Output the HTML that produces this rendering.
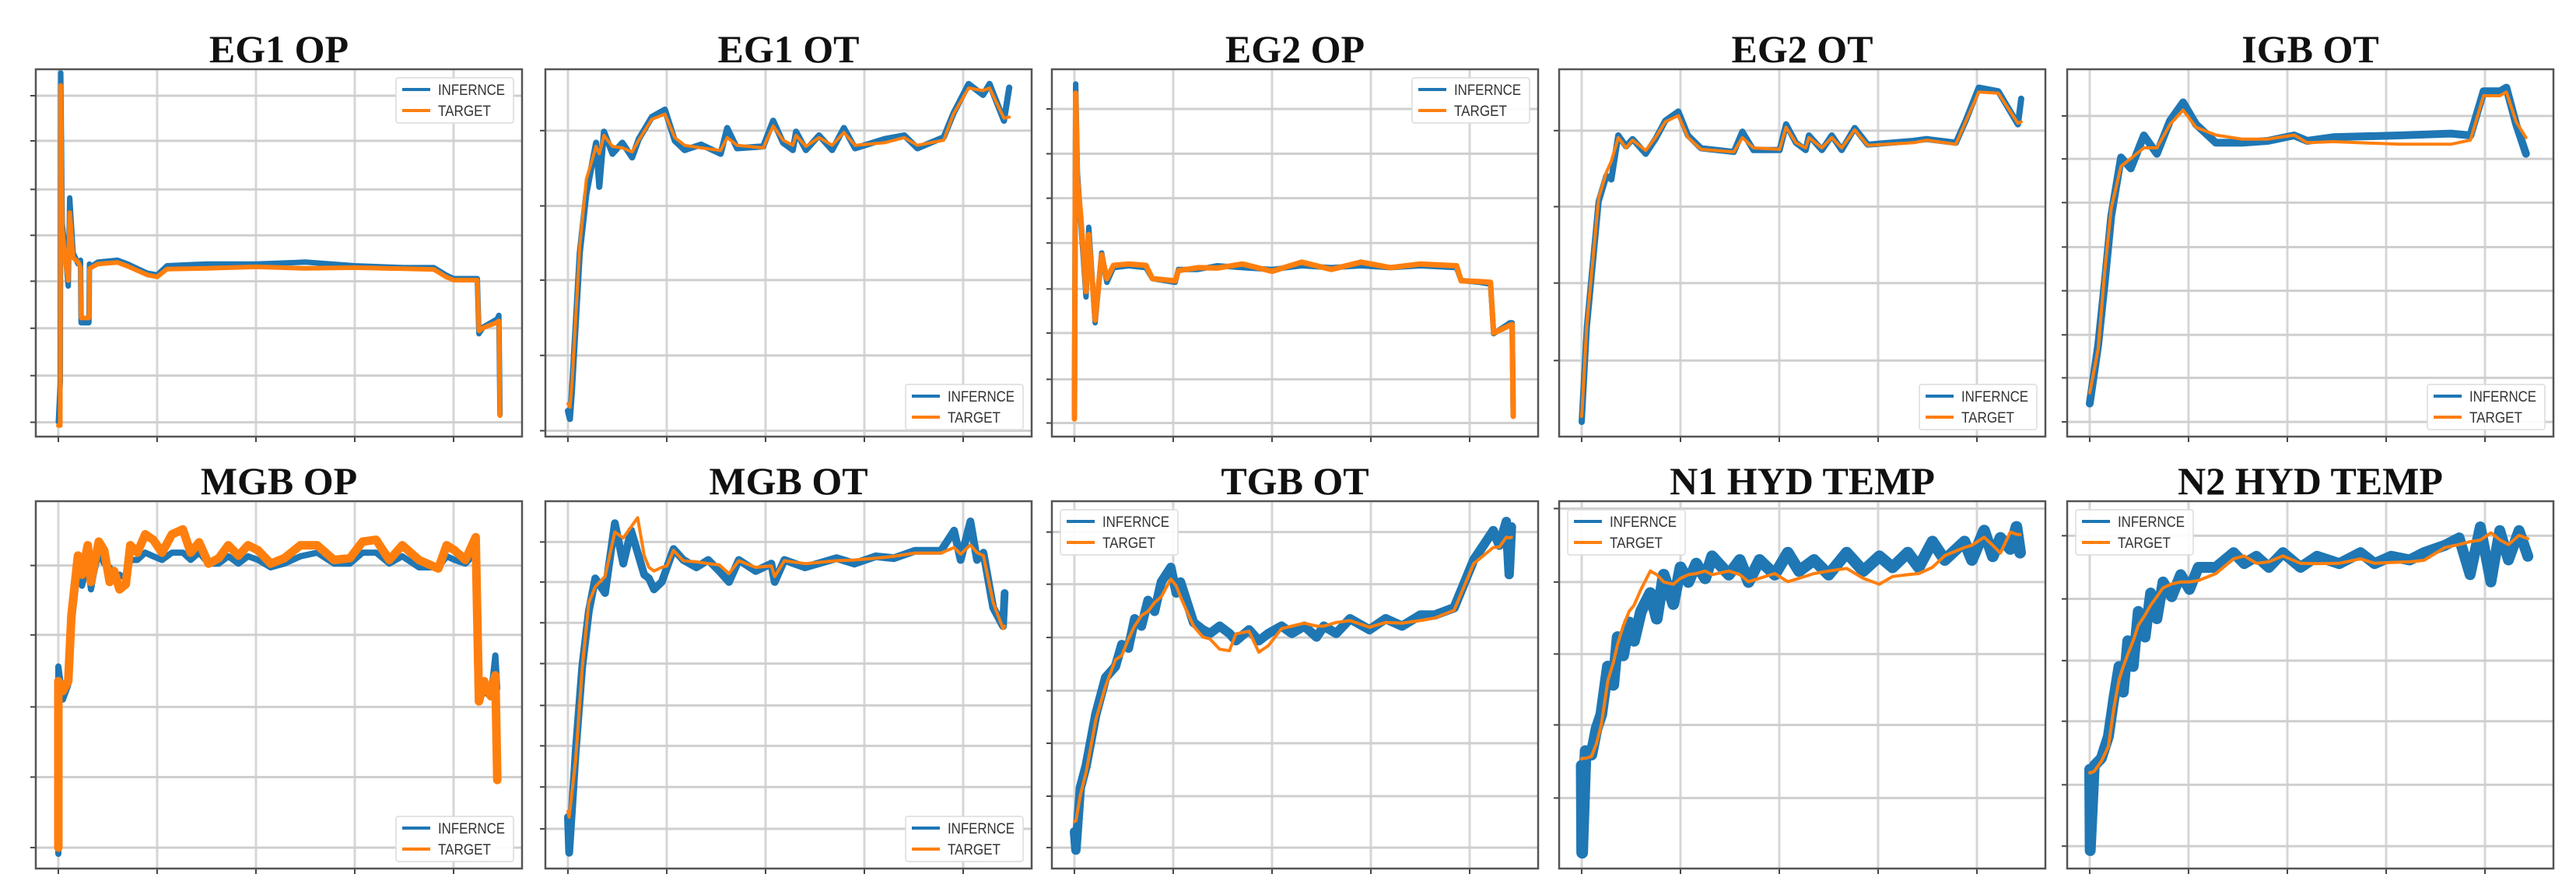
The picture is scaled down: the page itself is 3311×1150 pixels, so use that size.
<!DOCTYPE html>
<html><head><meta charset="utf-8"><title>Inference vs Target</title>
<style>
html,body{margin:0;padding:0;background:#fff;}
svg{display:block;}
</style></head>
<body>
<svg id="chart" width="3311" height="1150" viewBox="0 0 3311 1150" xmlns="http://www.w3.org/2000/svg"></svg>
<script>
// ---- shared axis data ----
const xTicks = [0, 1000, 2000, 3000, 4000];
const xDomain = [-228, 4693];
const yDomain = [0, 100];

// ---- EG1 OP ----
const eg1opX = [0,20,25,40,70,100,115,150,200,225,230,310,315,320,400,600,700,900,1000,1100,1500,2000,2500,3000,3500,3800,3922,4000,4240,4257,4300,4440,4458,4470];
const eg1opTarget = [3,3,95.6,56.5,48,42.5,61,48.7,47.5,46,32.3,32.3,45.6,45.8,47,47.4,46.4,44,43.5,45.6,45.8,46.2,45.8,46,45.7,45.5,43.5,42.6,42.6,28.8,29.6,31.1,31.5,5.7];
const eg1opInfer = [4,15,99,58,50,41,65,50,47,48,31,31,47,46,47.5,48,47,44.5,44,46.5,47,47,47.5,46.5,46,46,44,43,43,28,29.8,32,33,6];
const eg1opYTicks = [92.8,80.5,67.3,54.8,42.3,29.5,16.6,3.9];

// ---- EG1 OT ----
const eg1otX = [0,20,40,120,186,285,318,365,451,551,650,717,849,982,1082,1181,1347,1546,1612,1712,1977,2077,2177,2276,2309,2409,2541,2674,2793,2906,3205,3404,3537,3803,3902,4055,4201,4267,4413,4466];
const eg1otTarget = [9,8,14,52,70,79,77,82,79,78.6,77.5,80.7,86.4,87.8,81.4,79.3,78.6,77.9,81.4,79.3,78.6,84.6,80.7,79.3,82,79,81.4,79.3,82.8,79.3,80,81.4,79.3,80.7,87.8,94.9,94.2,94.9,86.7,87];
const eg1otInfer = [7,4.8,12,50,66,80,68,83,77,80,76,81,87,89,80.5,78,79.5,77,84,78.5,79,86,80,78,83,78,82,78,84,78.5,81,82,78.5,81.5,88,96,93,96,86,95];
const eg1otYTicks = [83.3,62.8,42.6,22.1,1.6];

// ---- EG2 OP ----
const eg2opX = [0,13,30,66,118,145,210,276,329,395,550,724,789,1020,1053,1250,1447,1700,2000,2300,2600,2900,3200,3500,3868,3914,4100,4211,4243,4408,4430,4441];
const eg2opTarget = [4.8,93.5,70,59.4,39.5,55,31.7,49.5,43,46.6,47,46.6,43,42.4,45.2,46,45.9,47,45,47.5,45.5,47.5,46,47,46.5,42.4,42.2,42,28.2,30.3,30.5,5.5];
const eg2opInfer = [6,96,72,58,38,57,31,50,42,46,46.5,46,43,42,45.5,45.5,46.5,46,45.5,46.5,46,46.5,46,46.5,46,42.5,42,41.5,28,31,31,6];
const eg2opYTicks = [89.2,77,64.9,52.7,40.2,28.2,15.6,3.7];

// ---- EG2 OT ----
const eg2otX = [0,53,172,251,300,370,449,515,648,747,846,978,1077,1209,1540,1626,1738,2003,2069,2168,2267,2300,2432,2531,2631,2763,2895,3358,3490,3787,3886,4018,4217,4415,4448];
const eg2otTarget = [5.5,31,65,72,75,81.4,78.6,80.7,77.9,81.4,85.7,87.4,81.4,78.2,77.5,81.4,78.6,78.2,84.2,80,78.6,81.4,78.6,81.4,78.6,83.5,79.3,80,80.7,79.6,85.7,93.8,93.5,85.3,85.7];
const eg2otInfer = [4,30,64,71,70,82,79,81,77,81,86,88.5,82,78.5,77.5,83,78,78,85,80,78,82,78,82,78,84,79.5,80.5,81,80,86,95,94,85,92];
const eg2otYTicks = [83.3,62.6,41.8,20.7];

// ---- IGB OT ----
const igbotX = [0,86,152,218,317,416,548,680,813,945,1077,1276,1540,1804,2069,2201,2465,3126,3655,3853,3986,4151,4217,4316,4415];
const igbotTarget = [11.9,23.9,45.2,62.2,73.6,75.7,78.6,78.6,85,88.9,84.2,82.1,81,81,82.1,80,80.3,79.6,79.6,80.7,92.8,92.8,93.8,85.7,81.4];
const igbotInfer = [9,25,42,60,76,73,82,77,86,91,85,80,80,80.5,82,80.5,81.5,82,82.5,82,94,94,95,85,77];
const igbotYTicks = [87.3,75.6,63.7,51.6,39.7,27.7,16,4];

// ---- MGB OP ----
const mgbopX = [0,0,46,100,133,199,240,298,330,365,410,464,520,564,620,683,729,800,880,961,1050,1150,1260,1340,1425,1520,1624,1720,1823,1920,2022,2150,2288,2450,2620,2790,2951,3080,3216,3350,3481,3650,3846,3930,4012,4120,4224,4257,4310,4377,4423,4443];
const mgbopTarget = [5.7,51,48.3,51,68.9,85.2,80,88,78,83,89,86.6,78,81,76,77.4,88,86,91,89.5,86,91,92.3,86,88.8,83,84.5,88,85.2,88,86.6,83,84.5,88,88,84,84.5,89,89.5,84,88,84,81.7,88,86.6,84,90.2,45.5,51,46.9,52.6,24.1];
const mgbopInfer = [4,55,46,50,66,82,77,83,76,81,86,83,82,80,80,79,84,84,86,85,84,86,86,84,86,83,83,85,83,85,84,82,83,85,86,83,83,86,86,83,85,82,82,85,84,83,86,48,48,47,58,49];
const mgbopYTicks = [82.5,63.6,44,24.9,5.7];

// ---- MGB OT ----
const mgbotX = [0,13,79,145,211,277,376,475,560,640,706,772,820,871,950,1003,1069,1168,1300,1420,1531,1630,1729,1900,2059,2092,2191,2400,2719,2900,3116,3300,3512,3776,3908,3974,4073,4140,4205,4304,4403,4420];
const mgbotTarget = [15.6,14,29.8,54.7,72.4,76.7,79.5,91.6,90,93,95.5,85.2,82,81,82,82.4,86.6,83.8,83.5,83,82.7,80.3,83.8,82,82.4,79.5,83.8,83,83.8,84,84.5,85,85.9,85.9,87.4,85.6,88.1,86,85.2,72.4,65.3,66];
const mgbotInfer = [14,4.3,32,55,70,79,75,94,83,92,86,80,79,76,78,82,87,84,82,84,81,78,84,81,83,78,84,82,84.5,83,85,84.5,86.5,86.5,92,84,94.5,84,86,71,66,75];
const mgbotYTicks = [88.9,78,66.9,55.8,44.4,33.4,22.2,10.8];

// ---- TGB OT ----
const tgbotX = [0,15,60,119,217,316,415,480,547,610,679,745,811,880,976,1030,1074,1206,1300,1371,1470,1569,1635,1767,1866,1964,2096,2200,2327,2450,2525,2650,2789,2986,3150,3316,3500,3646,3843,4041,4239,4300,4371,4400,4423];
const tgbotTarget = [12.8,13,20,26.3,40.5,49.7,56.8,58,62.5,66,68.9,70,72.4,74,78.8,77,73.9,66,63,62.5,59.7,59.3,63.9,64.6,58.9,60.7,65.3,66,66.8,66,66,67,67.5,65.7,67,66.8,67.5,68.2,70.3,83,87.4,87.5,90.2,90,90.2];
const tgbotInfer = [10,5,22,28,42,52,55,61,60,68,66,73,70,78,82,75,78,67,65,64,66,64,62,65,62,64,66,64,66,63,66,64,68,65,68,66,69,69,71,84,92,88,94.5,80,93];
const tgbotYTicks = [91.6,77.4,62.9,48.4,34.1,19.7,5.7];

// ---- N1 HYD TEMP ----
const n1X = [0,5,40,99,150,199,265,320,364,420,480,530,600,695,760,830,927,1000,1080,1159,1250,1320,1490,1600,1689,1800,1954,2086,2200,2351,2500,2682,2850,3013,3146,3300,3411,3550,3675,3874,3950,4073,4160,4238,4338,4400,4437];
const n1Target = [29.8,30,30,30.5,34,39.1,51.1,56,61.1,66,70,71.7,76,81,80,78,77.4,79,80,80.3,81,80,81,80,78.1,79,80.3,78.1,79,80.3,81,81.7,79,77.4,79.5,80,80.3,82,85.2,87.4,88,90.2,88,85.9,91.6,91,90.9];
const n1Infer = [28,4.3,32,31,38,42,55,50,63,58,67,62,70,75,68,80,72,82,78,83,79,85,80,84,78,84,80,86,81,84,80,86,81,85,82,86,82,89,84,89,84,92,85,90,87,93,86];
const n1YTicks = [98,78,58.4,39.1,19.2];

// ---- N2 HYD TEMP ----
const n2X = [0,5,46,118,189,243,296,340,385,440,492,560,617,680,742,830,921,1010,1099,1277,1456,1563,1688,1813,1955,2133,2300,2526,2740,2883,3050,3239,3382,3596,3739,3850,3953,4060,4150,4238,4345,4434];
const n2Target = [26.1,26,26.5,29.2,33.2,43.4,51.3,55,58.3,62,66.2,69,71.7,74,76.4,77.5,78,78,78.4,80.3,84.3,85.1,83.1,83.5,85.1,83.1,83,83.1,84.3,83.1,83.3,83.5,83.9,87.4,88.2,89,89.4,91.4,89.5,88.2,90.7,89.8];
const n2Infer = [27,4.9,28,30,36,46,55,48,62,55,70,63,75,68,78,74,80,76,82,82,86,83,85,82,86,82,85,83,86,83,85,84,86,88,90,80,93,78,92,84,92,85];
const n2YTicks = [90.6,73.4,56.6,40.1,22.8,6.1];

const panelTitles = ["EG1 OP","EG1 OT","EG2 OP","EG2 OT","IGB OT","MGB OP","MGB OT","TGB OT","N1 HYD TEMP","N2 HYD TEMP"];
const legendCorners = ["tr","br","tr","br","br","br","br","tl","tl","tl"];

const panels = [
  {x:eg1opX, t:eg1opTarget, i:eg1opInfer, yt:eg1opYTicks, bw:7, tw:6},
  {x:eg1otX, t:eg1otTarget, i:eg1otInfer, yt:eg1otYTicks, bw:8, tw:4},
  {x:eg2opX, t:eg2opTarget, i:eg2opInfer, yt:eg2opYTicks, bw:7, tw:7},
  {x:eg2otX, t:eg2otTarget, i:eg2otInfer, yt:eg2otYTicks, bw:8, tw:4},
  {x:igbotX, t:igbotTarget, i:igbotInfer, yt:igbotYTicks, bw:10, tw:4},
  {x:mgbopX, t:mgbopTarget, i:mgbopInfer, yt:mgbopYTicks, bw:8, tw:11},
  {x:mgbotX, t:mgbotTarget, i:mgbotInfer, yt:mgbotYTicks, bw:10, tw:4},
  {x:tgbotX, t:tgbotTarget, i:tgbotInfer, yt:tgbotYTicks, bw:12, tw:4},
  {x:n1X, t:n1Target, i:n1Infer, yt:n1YTicks, bw:15, tw:4},
  {x:n2X, t:n2Target, i:n2Infer, yt:n2YTicks, bw:14, tw:4}
];

const NS = "http://www.w3.org/2000/svg";
const svg = document.getElementById("chart");
const colLefts = [46, 701, 1352, 2004, 2657];
const rowTops = [89, 644];
const W = 625, H = 472;

function mk(tag, attrs, parent) {
  const e = document.createElementNS(NS, tag);
  for (const k in attrs) e.setAttribute(k, attrs[k]);
  parent.appendChild(e);
  return e;
}

panels.forEach((p, idx) => {
  const left = colLefts[idx % 5], top = rowTops[Math.floor(idx / 5)];
  const sx = v => left + (v - xDomain[0]) / (xDomain[1] - xDomain[0]) * W;
  const sy = v => top + H - (v - yDomain[0]) / (yDomain[1] - yDomain[0]) * H;

  const g = mk("g", {}, svg);
  
  

  const clip = mk("clipPath", {id: "clip" + idx}, g);
  mk("rect", {x: left, y: top, width: W, height: H}, clip);

  const title = mk("text", {x: left + W / 2, y: top - 9, "text-anchor": "middle", "font-family": "'Liberation Serif', serif", "font-weight": "bold", "font-size": "50", fill: "#111"}, g);
  title.textContent = panelTitles[idx];
  
  

  xTicks.forEach(v => {
    const l = mk("line", {x1: sx(v), x2: sx(v), y1: top, y2: top + H, stroke: "#d6d6d6", "stroke-width": 3}, g);
    
    
    const tk = mk("line", {x1: sx(v), x2: sx(v), y1: top + H, y2: top + H + 7, stroke: "#444", "stroke-width": 2}, g);
    
    
  });
  p.yt.forEach(v => {
    const l = mk("line", {x1: left, x2: left + W, y1: sy(v), y2: sy(v), stroke: "#cfcfcf", "stroke-width": 3}, g);
    
    
    const tk = mk("line", {x1: left - 7, x2: left, y1: sy(v), y2: sy(v), stroke: "#444", "stroke-width": 2}, g);
    
    
  });

  const ptsI = p.x.map((v, k) => sx(v).toFixed(1) + "," + sy(p.i[k]).toFixed(1)).join(" ");
  const ptsT = p.x.map((v, k) => sx(v).toFixed(1) + "," + sy(p.t[k]).toFixed(1)).join(" ");
  const li = mk("polyline", {points: ptsI, fill: "none", stroke: "#1f77b4", "stroke-width": p.bw, "stroke-linejoin": "round", "stroke-linecap": "round", "clip-path": "url(#clip" + idx + ")"}, g);
  
  
  const lt = mk("polyline", {points: ptsT, fill: "none", stroke: "#ff7f0e", "stroke-width": p.tw, "stroke-linejoin": "round", "stroke-linecap": "round", "clip-path": "url(#clip" + idx + ")"}, g);
  
  

  const fr = mk("rect", {x: left, y: top, width: W, height: H, fill: "none", stroke: "#555", "stroke-width": 2.5}, g);
  
  

  const lw = 151, lh = 58;
  const c = legendCorners[idx];
  const lx = c === "tl" ? left + 11 : left + W - 11 - lw;
  const ly = c === "br" ? top + H - 9 - lh : top + 11;
  const lg = mk("g", {}, g);
  
  
  mk("rect", {x: lx, y: ly, width: lw, height: lh, rx: 3, fill: "#fff", "fill-opacity": 0.9, stroke: "#dcdcdc", "stroke-width": 1.5}, lg);
  const entries = [["INFERNCE", "#1f77b4"], ["TARGET", "#ff7f0e"]];
  entries.forEach((en, k) => {
    const yy = ly + 15 + k * 27;
    const ent = mk("g", {}, lg);
    
    
    mk("line", {x1: lx + 8, x2: lx + 44, y1: yy, y2: yy, stroke: en[1], "stroke-width": 4}, ent);
    const tx = mk("text", {x: lx + 54, y: yy + 7, "font-family": "'Liberation Sans', sans-serif", "font-size": "19", fill: "#333", textLength: k === 0 ? 86 : 68, lengthAdjust: "spacingAndGlyphs"}, ent);
    tx.textContent = en[0];
  });
});
</script>
</body></html>
